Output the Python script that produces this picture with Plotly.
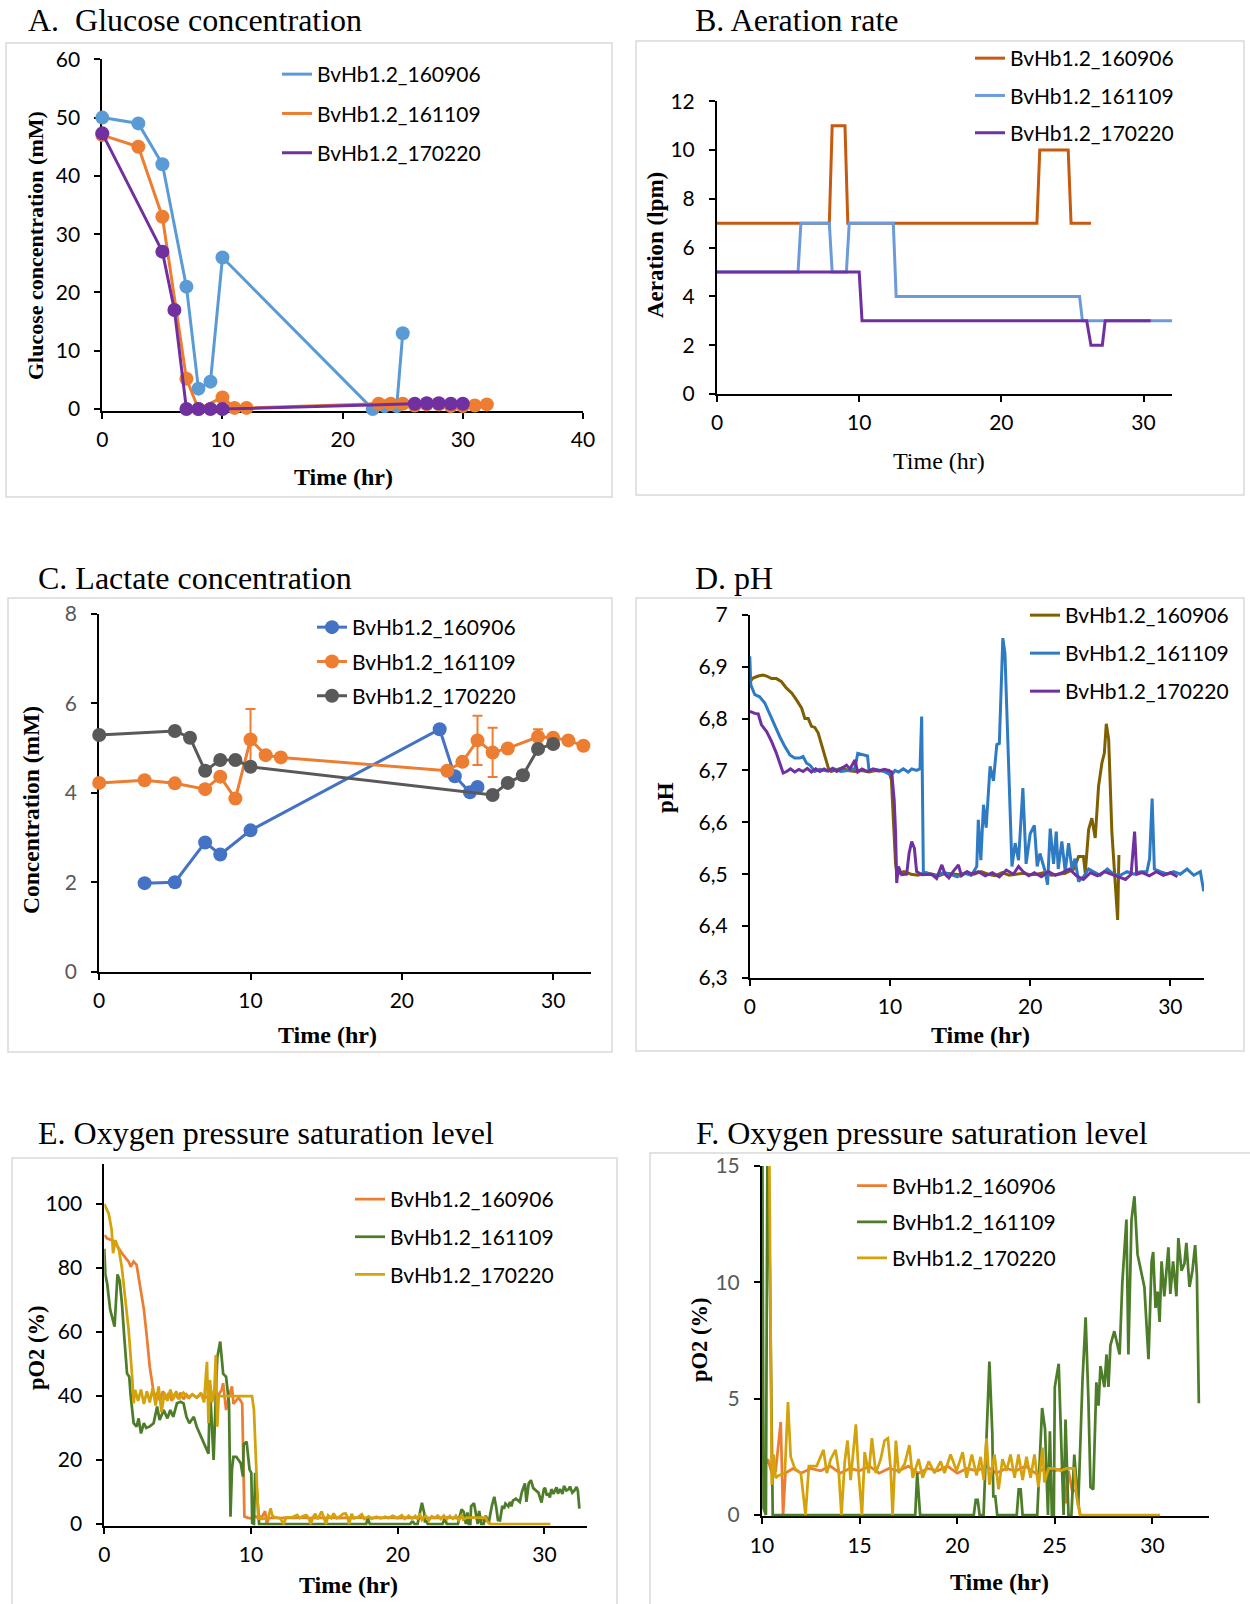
import plotly.graph_objects as go

W, H = 1250, 1604
NAMES = ["BvHb1.2_160906", "BvHb1.2_161109", "BvHb1.2_170220"]

# ---------------- A. Glucose ----------------
A_x_160906 = [0, 3, 5, 7, 8, 9, 10, 22.5, 23.5, 24.5, 25]
A_y_160906 = [50, 49, 42, 21, 3.5, 4.7, 26, 0, 0.5, 0.5, 13]
A_x_161109 = [0, 3, 5, 7, 8, 10, 11, 12, 23, 24, 25, 26, 27, 28, 29, 30, 31, 32]
A_y_161109 = [47, 45, 33, 5.2, 0, 2, 0.2, 0.2, 0.9, 0.9, 0.9, 0.6, 0.8, 0.8, 0.5, 0.5, 0.6, 0.8]
A_x_170220 = [0, 5, 6, 7, 8, 9, 10, 26, 27, 28, 29, 30]
A_y_170220 = [47.3, 27, 17, 0, 0, 0, 0, 0.9, 1.0, 1.0, 0.9, 0.9]

# ---------------- B. Aeration ----------------
B_x_160906 = [0, 7.9, 8.1, 9.0, 9.2, 22.5, 22.7, 24.7, 24.9, 26.3]
B_y_160906 = [7, 7, 11, 11, 7, 7, 10, 10, 7, 7]
B_x_161109 = [0, 5.7, 5.9, 7.9, 8.1, 9.1, 9.3, 12.4, 12.6, 25.5, 25.7, 32]
B_y_161109 = [5, 5, 7, 7, 5, 5, 7, 7, 4, 4, 3, 3]
B_x_170220 = [0, 10.0, 10.2, 26.0, 26.3, 27.1, 27.3, 30.5]
B_y_170220 = [5, 5, 3, 3, 2, 2, 3, 3]

# ---------------- C. Lactate ----------------
C_x_160906 = [3, 5, 7, 8, 10, 22.5, 23.5, 24.5, 25]
C_y_160906 = [1.98, 2.0, 2.89, 2.62, 3.16, 5.42, 4.37, 4.01, 4.13]
C_x_161109 = [0, 3, 5, 7, 8, 9, 10, 11, 12, 23, 24, 25, 26, 27, 29, 30, 31, 32]
C_y_161109 = [4.22, 4.28, 4.21, 4.08, 4.36, 3.87, 5.19, 4.84, 4.79, 4.49, 4.69, 5.17, 4.9, 4.99, 5.25, 5.23, 5.17, 5.05]
C_err_161109 = [0, 0, 0, 0, 0, 0, 0.68, 0, 0, 0, 0, 0.55, 0.55, 0, 0.17, 0, 0, 0]
C_x_170220 = [0, 5, 6, 7, 8, 9, 10, 26, 27, 28, 29, 30]
C_y_170220 = [5.29, 5.38, 5.23, 4.49, 4.73, 4.73, 4.58, 3.95, 4.22, 4.39, 4.98, 5.09]

# ---------------- D. pH (time, pH) ----------------
D_160906 = [(0, 6.871), (0.24, 6.878), (0.6, 6.882), (0.95, 6.884), (1.2, 6.882), (1.55, 6.877), (1.9, 6.877),
            (2.26, 6.871), (2.6, 6.859), (3.0, 6.849), (3.33, 6.836), (3.7, 6.82), (3.93, 6.80), (4.17, 6.80),
            (4.4, 6.785), (4.64, 6.783), (4.88, 6.772), (5.1, 6.753), (5.36, 6.727), (5.6, 6.705), (5.8, 6.698),
            (6.2, 6.702), (6.6, 6.705), (7.0, 6.70), (7.5, 6.698), (8.0, 6.70), (8.5, 6.697), (9.0, 6.70),
            (9.5, 6.699), (9.9, 6.70), (10.1, 6.682), (10.25, 6.60), (10.4, 6.52), (10.5, 6.50), (11, 6.505),
            (11.5, 6.50), (12, 6.498), (12.5, 6.503), (13, 6.50), (13.5, 6.497), (14, 6.502), (14.5, 6.50),
            (15, 6.499), (15.5, 6.503), (16, 6.50), (16.5, 6.505), (17, 6.50), (17.5, 6.497), (18, 6.503),
            (18.5, 6.498), (19, 6.50), (19.5, 6.502), (20, 6.499), (20.5, 6.50), (21, 6.503), (21.5, 6.498),
            (22, 6.50), (22.5, 6.502), (23.1, 6.51), (23.45, 6.534), (23.8, 6.534), (23.93, 6.502),
            (24.17, 6.586), (24.4, 6.608), (24.64, 6.57), (24.88, 6.67), (25.12, 6.715), (25.29, 6.733),
            (25.43, 6.79), (25.6, 6.76), (25.83, 6.58), (26.0, 6.502), (26.14, 6.451), (26.24, 6.412),
            (26.33, 6.537)]
D_161109 = [(0, 6.92), (0.07, 6.865), (0.36, 6.846), (0.7, 6.842), (1.07, 6.83), (1.43, 6.807), (1.79, 6.785),
            (2.14, 6.765), (2.5, 6.746), (2.86, 6.73), (3.2, 6.724), (3.57, 6.724), (3.8, 6.727), (4.05, 6.714),
            (4.3, 6.71), (4.64, 6.698), (5.0, 6.702), (5.5, 6.699), (6.0, 6.703), (6.5, 6.698), (7.0, 6.70),
            (7.5, 6.704), (7.7, 6.733), (8.0, 6.731), (8.4, 6.728), (8.5, 6.70), (9.0, 6.702), (9.5, 6.699),
            (10.1, 6.691), (10.36, 6.70), (10.6, 6.697), (10.95, 6.703), (11.3, 6.697), (11.55, 6.703),
            (11.9, 6.70), (12.14, 6.703), (12.26, 6.804), (12.38, 6.505), (12.8, 6.50), (13.3, 6.497),
            (13.8, 6.503), (14.3, 6.50), (14.8, 6.495), (15.3, 6.502), (15.8, 6.498), (16.19, 6.515),
            (16.3, 6.605), (16.48, 6.527), (16.67, 6.634), (16.86, 6.59), (17.14, 6.708), (17.38, 6.68),
            (17.62, 6.75), (17.8, 6.752), (18.05, 6.955), (18.2, 6.926), (18.45, 6.708), (18.7, 6.515),
            (18.93, 6.56), (19.17, 6.527), (19.48, 6.666), (19.71, 6.52), (20.0, 6.578), (20.3, 6.594),
            (20.5, 6.515), (20.7, 6.54), (21.07, 6.505), (21.24, 6.48), (21.43, 6.588), (21.67, 6.52),
            (21.86, 6.582), (22.0, 6.51), (22.26, 6.563), (22.5, 6.505), (22.74, 6.56), (22.98, 6.51),
            (23.2, 6.53), (23.45, 6.486), (23.8, 6.495), (24.17, 6.51), (24.5, 6.505), (25.0, 6.498),
            (25.5, 6.51), (25.95, 6.50), (26.43, 6.498), (26.9, 6.505), (27.4, 6.50), (27.86, 6.505),
            (28.33, 6.505), (28.52, 6.53), (28.7, 6.646), (28.86, 6.51), (29.29, 6.505), (29.8, 6.50),
            (30.24, 6.505), (30.71, 6.50), (31.19, 6.51), (31.67, 6.498), (32.14, 6.505), (32.38, 6.467)]
D_170220 = [(0, 6.814), (0.36, 6.81), (0.6, 6.809), (0.83, 6.788), (1.2, 6.775), (1.55, 6.756), (1.9, 6.733),
            (2.14, 6.714), (2.38, 6.695), (2.62, 6.698), (2.9, 6.703), (3.2, 6.697), (3.5, 6.702), (3.8, 6.698),
            (4.1, 6.704), (4.4, 6.697), (4.7, 6.703), (5.0, 6.698), (5.3, 6.703), (5.6, 6.699), (5.9, 6.704),
            (6.2, 6.698), (6.5, 6.703), (6.9, 6.71), (7.14, 6.703), (7.5, 6.72), (7.7, 6.697), (8.0, 6.703),
            (8.4, 6.698), (8.8, 6.703), (9.2, 6.699), (9.6, 6.702), (9.88, 6.70), (10.12, 6.697), (10.3, 6.643),
            (10.4, 6.58), (10.48, 6.483), (10.6, 6.515), (10.83, 6.499), (11.19, 6.50), (11.36, 6.54),
            (11.55, 6.563), (11.74, 6.55), (11.9, 6.505), (12.26, 6.499), (12.98, 6.50), (13.33, 6.492),
            (13.7, 6.518), (13.93, 6.50), (14.2, 6.493), (14.5, 6.505), (14.88, 6.518), (15.1, 6.497),
            (15.5, 6.505), (15.8, 6.50), (16.3, 6.505), (16.8, 6.497), (17.3, 6.503), (17.8, 6.495),
            (18.3, 6.508), (18.8, 6.50), (19.17, 6.515), (19.5, 6.505), (19.9, 6.497), (20.3, 6.503),
            (20.8, 6.495), (21.3, 6.505), (21.8, 6.498), (22.3, 6.503), (22.8, 6.51), (23.3, 6.497),
            (23.8, 6.49), (24.3, 6.503), (24.8, 6.497), (25.3, 6.505), (25.8, 6.50), (26.3, 6.495),
            (26.8, 6.49), (27.2, 6.50), (27.45, 6.582), (27.6, 6.50), (28.0, 6.503), (28.5, 6.497),
            (29.0, 6.505), (29.5, 6.498), (30.0, 6.503), (30.5, 6.495)]
D_ticks = [6.3, 6.4, 6.5, 6.6, 6.7, 6.8, 6.9, 7.0]
D_ticktext = ["6,3", "6,4", "6,5", "6,6", "6,7", "6,8", "6,9", "7"]

# ---------------- E/F. pO2 (time, %) ----------------
O2_160906 = [(0, 90.3), (0.18, 89.3), (0.64, 88.5), (1.0, 86), (1.3, 84), (1.66, 82), (1.8, 80.4), (2.0, 82),
             (2.2, 81), (2.45, 74), (2.7, 67), (2.9, 58.5), (3.1, 49), (3.3, 43), (3.4, 39.8), (3.6, 41),
             (3.8, 38.5), (4.0, 41.5), (4.2, 39), (4.4, 41), (4.6, 38.5), (4.8, 40.5), (5.0, 39.5), (5.2, 41),
             (5.4, 39), (5.6, 40.5), (5.8, 39.5), (6.0, 40.5), (6.3, 39.5), (6.6, 40.5), (6.9, 39.5), (7.2, 40.5),
             (7.5, 39.5), (7.8, 40.5), (8.0, 41.9), (8.1, 44), (8.3, 35.6), (8.5, 40), (8.7, 43), (8.8, 37.5),
             (9.15, 39.5), (9.4, 37.7), (9.5, 17), (9.55, 2.3), (9.8, 1.9), (10.0, 1.8), (10.3, 2.4), (10.5, 1.8),
             (10.7, 1.9), (10.96, 4.0), (11.08, 0), (11.2, 1.8), (11.6, 2.0), (12.0, 1.8), (12.5, 2.0), (13.0, 1.9),
             (13.5, 2.1), (14.0, 1.8), (14.5, 2.0), (15.0, 1.9), (15.5, 2.1), (16.0, 1.8), (16.5, 2.0), (17.0, 1.9),
             (17.5, 2.1), (18.0, 1.8), (18.5, 2.0), (19.0, 1.9), (19.5, 2.1), (20.0, 1.8), (20.5, 2.0), (21.0, 1.9),
             (21.5, 2.1), (22.0, 1.8), (22.5, 2.0), (23.0, 1.9), (23.5, 2.1), (24.0, 1.8), (24.5, 2.0), (25.0, 1.9),
             (25.4, 2.0), (25.56, 0.5), (25.7, 1.9), (25.9, 1.0), (26.1, 1.1), (26.3, 0)]
O2_161109 = [(0, 86), (0.07, 78), (0.2, 75), (0.4, 67), (0.7, 61.7), (0.9, 78), (1.05, 76), (1.2, 69),
             (1.36, 58.5), (1.55, 47), (1.7, 46), (1.8, 40), (2.0, 31.5), (2.2, 30.4), (2.34, 33), (2.5, 28.3),
             (2.7, 31.5), (2.86, 30), (3.1, 30.5), (3.36, 31.5), (3.6, 36.7), (3.77, 32.5), (4.05, 35.6), (4.3, 33),
             (4.5, 35.6), (4.7, 33.5), (4.95, 37.7), (5.2, 38.2), (5.4, 37.7), (5.6, 33.5), (5.8, 31.5), (6.1, 33.5),
             (6.3, 30.4), (6.5, 28.3), (6.8, 25), (7.1, 22), (7.2, 43), (7.45, 20), (7.6, 40), (7.7, 52), (7.9, 57),
             (8.0, 52), (8.1, 47), (8.3, 46), (8.5, 37.7), (8.6, 2.3), (8.7, 17), (8.8, 21), (9.0, 21), (9.3, 19),
             (9.45, 14.8), (9.5, 25), (9.7, 25.7), (9.9, 17), (10.02, 16), (10.08, 0.3), (10.2, 0), (10.28, 16),
             (10.4, 10.6), (10.55, 0), (17.85, 0), (17.95, 1.8), (18.1, 0), (20.85, 0), (20.95, 0.65), (21.05, 0.65),
             (21.15, 0), (21.35, 0), (21.65, 6.6), (21.8, 3.5), (21.85, 0.8), (21.95, 0.8), (22.05, 0), (23.05, 0),
             (23.15, 1.1), (23.25, 1.1), (23.35, 0), (24.1, 0), (24.35, 4.6), (24.5, 3.7), (24.6, 1.5), (24.65, 0),
             (24.75, 3.6), (24.85, 0), (24.95, 0), (25.0, 5.5), (25.2, 6.5), (25.35, 3), (25.45, 0), (25.55, 4.1),
             (25.7, 0), (25.85, 0), (26.0, 2.6), (26.1, 1.5), (26.2, 0.4), (26.42, 5.8), (26.58, 8.5), (26.72, 5),
             (26.83, 1.2), (26.97, 1.1), (27.13, 5.7), (27.24, 4.7), (27.34, 6.4), (27.54, 5.5), (27.65, 6.9),
             (27.75, 5.5), (27.85, 7.3), (28.05, 7.9), (28.32, 6.9), (28.46, 10), (28.67, 12.7), (28.77, 6.9),
             (28.93, 12.7), (29.08, 13.7), (29.24, 11.2), (29.49, 10.2), (29.59, 9.8), (29.8, 6.7), (29.96, 10.9),
             (30.04, 11.3), (30.16, 8.9), (30.27, 9.6), (30.37, 8.3), (30.47, 10.9), (30.61, 9.4), (30.82, 11.5),
             (30.92, 9.5), (31.06, 10.9), (31.23, 9.4), (31.33, 11.9), (31.49, 10.5), (31.64, 10.8), (31.74, 11.7),
             (31.9, 9.8), (32.05, 10.5), (32.19, 11.6), (32.28, 10.3), (32.38, 4.8)]
O2_170220 = [(0, 100), (0.3, 97), (0.5, 92), (0.6, 84.6), (0.75, 88.7), (1.0, 85.6), (1.2, 80), (1.43, 71),
             (1.66, 60.6), (1.9, 46), (2.0, 37.7), (2.1, 41.9), (2.3, 38.5), (2.5, 42), (2.7, 37.5), (2.9, 41.5),
             (3.1, 38), (3.3, 42.5), (3.5, 37), (3.7, 43), (3.9, 35), (4.1, 41), (4.3, 38.5), (4.5, 42), (4.7, 39),
             (4.9, 41.5), (5.1, 39), (5.4, 41), (5.7, 39.5), (6.0, 40.5), (6.3, 39.5), (6.6, 41), (6.8, 38),
             (6.95, 48), (7.0, 50.7), (7.1, 31.5), (7.2, 45), (7.35, 38), (7.5, 42), (7.6, 52.8), (7.7, 30.4),
             (7.8, 40), (8.2, 40), (8.6, 39.8), (9.0, 40), (9.4, 39.8), (9.8, 40), (10.07, 40), (10.2, 35.6),
             (10.35, 17), (10.5, 1.3), (10.6, 2.6), (10.7, 1.6), (10.86, 1.7), (11.17, 1.8), (11.33, 4.85),
             (11.47, 2.5), (11.68, 2.0), (11.99, 1.8), (12.23, 0), (12.4, 2.1), (12.8, 2.1), (13.15, 2.8),
             (13.32, 1.8), (13.52, 2.4), (13.77, 2.8), (13.93, 1.9), (14.07, 0), (14.24, 2.3), (14.38, 3.2),
             (14.54, 1.5), (14.81, 3.9), (14.95, 1.8), (15.12, 0), (15.26, 2.7), (15.47, 1.8), (15.63, 3.3),
             (15.83, 1.8), (16.08, 2.4), (16.28, 3.2), (16.45, 3.3), (16.59, 2.0), (16.69, 0), (16.86, 3.2),
             (17.0, 1.8), (17.31, 2.2), (17.55, 3.0), (17.72, 1.6), (18.02, 2.4), (18.23, 1.6), (18.54, 2.3),
             (18.84, 1.8), (19.15, 2.3), (19.35, 1.8), (19.66, 2.6), (19.97, 1.9), (20.28, 2.7), (20.48, 1.6),
             (20.75, 2.6), (20.99, 1.7), (21.2, 2.5), (21.36, 1.5), (21.5, 3.3), (21.65, 1.3), (21.91, 2.6),
             (22.12, 1.1), (22.32, 2.4), (22.53, 1.9), (22.73, 2.6), (22.94, 1.6), (23.14, 2.6), (23.35, 1.5),
             (23.55, 2.5), (23.76, 1.6), (23.96, 2.6), (24.16, 1.2), (24.37, 2.9), (24.47, 1.4), (24.68, 2.0),
             (24.98, 2.0), (25.29, 1.9), (25.6, 2.0), (26.0, 2.0), (26.11, 0.8), (26.3, 0), (30.4, 0)]

# ---------------- styling ----------------
TICKFONT = "Lato"
SERIF = "Liberation Serif"
GRAY_TICK = "#595959"


def unzip(pairs):
    return [p[0] for p in pairs], [p[1] for p in pairs]


def dom_x(a, b):
    return [a / W, b / W]


def dom_y(top, bottom):
    return [1 - bottom / H, 1 - top / H]


def axis(domain, rng, anchor, tickvals=None, ticktext=None, dtick=None, tickcolor="black", standoff=10):
    d = dict(domain=domain, range=rng, anchor=anchor, showline=True, linecolor="black", linewidth=2,
             ticks="outside", ticklen=6, tickwidth=1.5, tickcolor="black", showgrid=False, zeroline=False,
             layer="below traces", fixedrange=True, ticklabelstandoff=standoff, automargin=False,
             tickfont=dict(family=TICKFONT, size=21, color=tickcolor))
    if tickvals is not None:
        d["tickmode"] = "array"
        d["tickvals"] = tickvals
        if ticktext is not None:
            d["ticktext"] = ticktext
    elif dtick is not None:
        d["tick0"] = 0
        d["dtick"] = dtick
    return d


def xaxis(*a, **k):
    k.setdefault("standoff", 3)
    return axis(*a, **k)


fig = go.Figure()


def line(x, y, color, name, ax, leg, width=3, show=True, group=None):
    fig.add_trace(go.Scatter(x=x, y=y, mode="lines", name=name, line=dict(color=color, width=width),
                             xaxis=ax[0], yaxis=ax[1], legend=leg, showlegend=show,
                             legendgroup=group or (leg + name), hoverinfo="skip"))


def markers(x, y, color, ax, size=13):
    fig.add_trace(go.Scatter(x=x, y=y, mode="markers", marker=dict(color=color, size=size),
                             xaxis=ax[0], yaxis=ax[1], showlegend=False, cliponaxis=False, hoverinfo="skip"))


# A
axA = ("x", "y")
for xs, ys, c, n in [(A_x_160906, A_y_160906, "#5B9BD5", NAMES[0]),
                     (A_x_161109, A_y_161109, "#ED7D31", NAMES[1]),
                     (A_x_170220, A_y_170220, "#7030A0", NAMES[2])]:
    line(xs, ys, c, n, axA, "legend")
    markers(xs, ys, c, axA, 14)

# B
axB = ("x2", "y2")
for xs, ys, c, n in [(B_x_160906, B_y_160906, "#C55A11", NAMES[0]),
                     (B_x_161109, B_y_161109, "#6B9BD9", NAMES[1]),
                     (B_x_170220, B_y_170220, "#7030A0", NAMES[2])]:
    line(xs, ys, c, n, axB, "legend2", width=3)

# C
fig.add_trace(go.Scatter(x=C_x_160906, y=C_y_160906, mode="lines+markers", name=NAMES[0],
                         line=dict(color="#4472C4", width=3), marker=dict(color="#4472C4", size=14),
                         xaxis="x3", yaxis="y3", legend="legend3", legendgroup="c1", cliponaxis=False,
                         hoverinfo="skip"))
fig.add_trace(go.Scatter(x=C_x_161109, y=C_y_161109, mode="lines+markers", name=NAMES[1],
                         line=dict(color="#ED7D31", width=3), marker=dict(color="#ED7D31", size=14),
                         error_y=dict(type="data", array=C_err_161109, arrayminus=C_err_161109,
                                      color="#ED7D31", thickness=2, width=5),
                         xaxis="x3", yaxis="y3", legend="legend3", legendgroup="c2", cliponaxis=False,
                         hoverinfo="skip"))
fig.add_trace(go.Scatter(x=C_x_170220, y=C_y_170220, mode="lines+markers", name=NAMES[2],
                         line=dict(color="#595959", width=3), marker=dict(color="#595959", size=14),
                         xaxis="x3", yaxis="y3", legend="legend3", legendgroup="c3", cliponaxis=False,
                         hoverinfo="skip"))

# D
axD = ("x4", "y4")
for pairs, c, n in [(D_160906, "#7F6000", NAMES[0]), (D_161109, "#2E7BC4", NAMES[1]),
                    (D_170220, "#7030A0", NAMES[2])]:
    xs, ys = unzip(pairs)
    line(xs, ys, c, n, axD, "legend4", width=3)

# E and F (same series)
O2_COLORS = ["#ED7D31", "#4E7D2A", "#D4A20B"]
for pairs, c, n in [(O2_160906, O2_COLORS[0], NAMES[0]), (O2_161109, O2_COLORS[1], NAMES[1]),
                    (O2_170220, O2_COLORS[2], NAMES[2])]:
    xs, ys = unzip(pairs)
    line(xs, ys, c, n, ("x5", "y5"), "legend5", width=2.75)
    line(xs, ys, c, n, ("x6", "y6"), "legend6", width=2.75)


def leg(text_x, row1, gap):
    return dict(x=(text_x - 42) / W, y=1 - (row1 - 21) / H, xanchor="left", yanchor="top",
                font=dict(family=TICKFONT, size=21, color="black"), bgcolor="rgba(0,0,0,0)",
                borderwidth=0, traceorder="grouped", tracegroupgap=max(gap - 30, 0))


layout = dict(
    width=W, height=H, autosize=False, margin=dict(l=0, r=0, t=0, b=0, pad=0, autoexpand=False),
    paper_bgcolor="white", plot_bgcolor="rgba(0,0,0,0)",
    xaxis=xaxis(dom_x(102.3, 583), [0, 40], "y", dtick=10),
    yaxis=axis(dom_y(59.3, 410.5), [-0.25, 60], "x", dtick=10),
    xaxis2=xaxis(dom_x(717, 1172), [0, 32], "y2", dtick=10),
    yaxis2=axis(dom_y(101.3, 394), [0, 12], "x2", dtick=2),
    xaxis3=xaxis(dom_x(99.2, 591), [0, 32.5], "y3", dtick=10),
    yaxis3=axis(dom_y(613.7, 971.8), [0, 8], "x3", dtick=2, tickcolor=GRAY_TICK),
    xaxis4=xaxis(dom_x(749.8, 1204), [0, 32.4], "y4", dtick=10),
    yaxis4=axis(dom_y(614.8, 978), [6.3, 7.0], "x4", tickvals=D_ticks, ticktext=D_ticktext),
    xaxis5=xaxis(dom_x(104.3, 587), [0, 32.9], "y5", dtick=10),
    yaxis5=axis(dom_y(1164, 1525.6), [-0.5, 112.5], "x5", tickvals=[0, 20, 40, 60, 80, 100]),
    xaxis6=xaxis(dom_x(762, 1209), [10, 32.9], "y6", tickvals=[10, 15, 20, 25, 30]),
    yaxis6=axis(dom_y(1166, 1516.4), [-0.06, 15], "x6", tickvals=[0, 5, 10, 15], tickcolor=GRAY_TICK),
    legend=leg(319, 75, 39),
    legend2=leg(1012, 59, 37),
    legend3=leg(354, 628, 34),
    legend4=leg(1067, 616, 37.7),
    legend5=leg(392, 1200, 37.3),
    legend6=leg(894, 1186.5, 35.8),
)
fig.update_layout(**layout)

# frames
for x0, y0, x1, y1 in [(6, 43, 612, 497), (636, 41, 1244, 495), (8, 598, 612, 1052),
                       (636, 598, 1244, 1051), (12, 1158, 617, 1610), (650, 1153, 1256, 1610)]:
    fig.add_shape(type="rect", xref="paper", yref="paper", x0=x0 / W, x1=x1 / W, y0=1 - y0 / H, y1=1 - y1 / H,
                  line=dict(color="#D9D9D9", width=1.5), fillcolor="rgba(0,0,0,0)", layer="below")

# titles
for txt, x, y in [("A.  Glucose concentration", 25.6, 20.5), ("B. Aeration rate", 692.5, 20.5),
                  ("C. Lactate concentration", 36, 578), ("D. pH", 692.5, 578),
                  ("E. Oxygen pressure saturation level", 36, 1133),
                  ("F. Oxygen pressure saturation level", 693.5, 1133)]:
    fig.add_annotation(text=txt, x=x / W, y=1 - y / H, xref="paper", yref="paper", xanchor="left",
                       yanchor="middle", showarrow=False, font=dict(family=SERIF, size=32, color="black"))

# axis titles
for txt, x, y, ang, sz in [("<b>Glucose concentration (mM)</b>", 36, 246, -90, 22),
                           ("<b>Time (hr)</b>", 343, 477, 0, 24),
                           ("<b>Aeration (lpm)</b>", 656, 245, -90, 23), ("Time (hr)", 939, 461, 0, 24),
                           ("<b>Concentration (mM)</b>", 31, 810, -90, 23.5),
                           ("<b>Time (hr)</b>", 327, 1035, 0, 24),
                           ("<b>pH</b>", 665, 798, -90, 23), ("<b>Time (hr)</b>", 980, 1035, 0, 24),
                           ("<b>pO2 (%)</b>", 36, 1348, -90, 22.5), ("<b>Time (hr)</b>", 348, 1585, 0, 24),
                           ("<b>pO2 (%)</b>", 699, 1340, -90, 22.5), ("<b>Time (hr)</b>", 999, 1582, 0, 24)]:
    fig.add_annotation(text=txt, x=x / W, y=1 - y / H, xref="paper", yref="paper", xanchor="center",
                       yanchor="middle", showarrow=False, textangle=ang,
                       font=dict(family=SERIF, size=sz, color="black"))

fig.write_html("out.html", config={"displayModeBar": False},
               post_script="document.body.style.margin='0px';document.body.style.overflow='hidden';")
